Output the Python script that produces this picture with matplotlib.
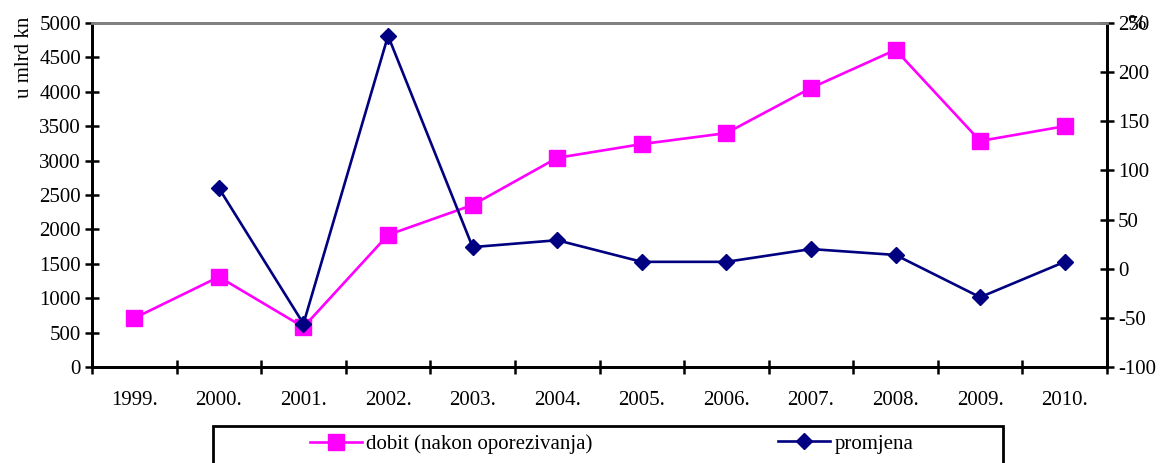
import matplotlib
matplotlib.use("Agg")
import matplotlib.pyplot as plt
from matplotlib.patches import Rectangle
from matplotlib.lines import Line2D

plt.rcParams['font.family'] = ['Liberation Serif', 'DejaVu Serif']
plt.rcParams['axes.unicode_minus'] = False

years = ['1999.', '2000.', '2001.', '2002.', '2003.', '2004.', '2005.',
         '2006.', '2007.', '2008.', '2009.', '2010.']
dobit = [710, 1310, 580, 1920, 2355, 3040, 3240, 3400, 4055, 4610, 3285, 3500]
promjena_years = years[1:]
promjena = [82, -56, 237, 22, 29, 7, 7, 20, 14, -29, 7]

FS = 15
W, H = 1162, 463
fig = plt.figure(figsize=(W / 100, H / 100), dpi=100)
ax = fig.add_axes([92 / W, 1 - 367 / H, (1107 - 92) / W, (367 - 23) / H])
ax2 = ax.twinx()

x = list(range(len(years)))
ax.plot(x, dobit, color='#FF00FF', lw=1.9, marker='s', ms=11, zorder=3,
        clip_on=False)
x2 = [years.index(y) for y in promjena_years]
ax2.plot(x2, promjena, color='#000080', lw=1.9, marker='D', ms=8.5, zorder=3,
         clip_on=False)

ax.set_xlim(-0.5, len(years) - 0.5)
ax.set_ylim(0, 5000)
ax.set_yticks(range(0, 5001, 500))
ax2.set_ylim(-100, 250)
ax2.set_yticks(range(-100, 251, 50))

ax.set_xticks(x)
ax.set_xticklabels(years)
ax.set_xticks([i + 0.5 for i in range(-1, len(years))], minor=True)
ax.tick_params(axis='x', which='major', length=0, pad=17, labelsize=FS)
ax.tick_params(axis='x', which='minor', direction='inout', length=10, width=1.8)
ax.tick_params(axis='y', direction='inout', length=10, width=1.8, labelsize=FS,
               pad=3)
ax2.tick_params(axis='y', direction='inout', length=10, width=1.8, labelsize=FS,
                pad=3)

for a in (ax, ax2):
    a.spines['left'].set_linewidth(2)
    a.spines['right'].set_linewidth(2)
    a.spines['bottom'].set_linewidth(2)
    a.spines['top'].set_color('#808080')
    a.spines['top'].set_linewidth(2)

ax.set_ylabel('u mlrd kn', fontsize=FS, labelpad=2)
ax.yaxis.set_label_coords(-0.057, 0.90)
ax2.text(1.02, 0.995, '%', transform=ax2.transAxes, fontsize=FS + 1,
         va='center', ha='left')

# legend box
fig.patches.append(Rectangle((213 / W, -0.05), (1003 - 213) / W,
                             (463 - 426) / H + 0.05, transform=fig.transFigure,
                             fill=False, edgecolor='black', lw=2.0))
h1 = Line2D([], [], color='#FF00FF', lw=1.9, marker='s', ms=11)
h2 = Line2D([], [], color='#000080', lw=1.9, marker='D', ms=8.5)
fig.legend([h1], ['dobit (nakon oporezivanja)'], loc='center left',
           bbox_to_anchor=(310 / W, 1 - 444 / H), frameon=False, fontsize=FS,
           handlelength=2.5, handletextpad=0.2, borderaxespad=0, borderpad=0)
fig.legend([h2], ['promjena'], loc='center left',
           bbox_to_anchor=(778 / W, 1 - 444 / H), frameon=False, fontsize=FS,
           handlelength=2.5, handletextpad=0.2, borderaxespad=0, borderpad=0)

fig.savefig('out.png', dpi=100)
